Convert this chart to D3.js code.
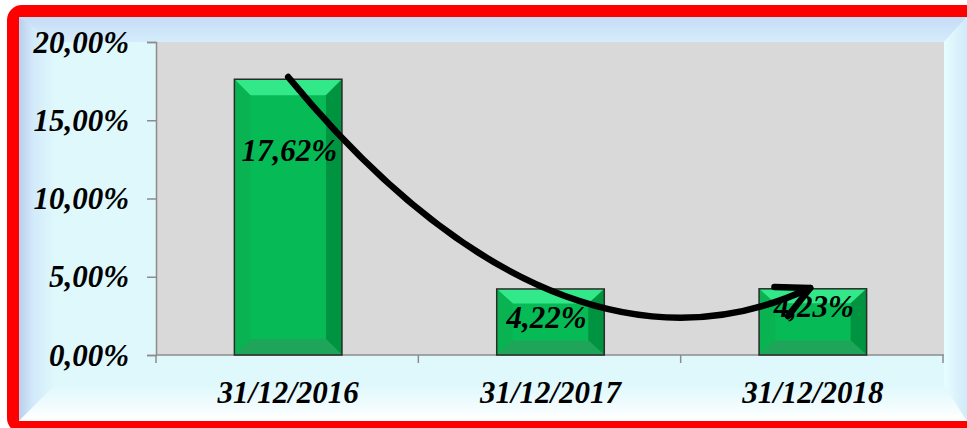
<!DOCTYPE html>
<html>
<head>
<meta charset="utf-8">
<script src="https://cdn.jsdelivr.net/npm/d3@7"></script>
<style>
  html, body { margin: 0; padding: 0; background: #fff; overflow: hidden; }
  text { font-family: "Liberation Serif", "Times New Roman", serif; font-weight: bold; font-style: italic; }
</style>
</head>
<body>
<div id="chart"></div>
<script>
/**
 * DATA
 * */
const categories = ["31/12/2016", "31/12/2017", "31/12/2018"];
const values = [17.62, 4.22, 4.23];
const valueLabels = ["17,62%", "4,22%", "4,23%"];
const yTicks = [0, 5, 10, 15, 20];
const yTickLabels = ["0,00%", "5,00%", "10,00%", "15,00%", "20,00%"];

// arrow annotation: [category position, value]
const arrowPoints = [[0, 17.76], [0.73, 2.9], [1.42, -0.2], [1.99, 4.28]];

/**
 * LAYOUT
 * */
const width = 967, height = 428;
const plot = { left: 157, right: 944, top: 42, bottom: 355 };
const fontSize = "31px";
// label baseline offset below bar top, and x shift
const labelDy = [82, 39, 28];
const labelDx = [1, -4, 1];

const svg = d3.select("#chart").append("svg")
  .attr("width", width)
  .attr("height", height);

const defs = svg.append("defs");

function linGrad(id, x1, y1, x2, y2, stops) {
  const g = defs.append("linearGradient").attr("id", id)
    .attr("x1", x1).attr("y1", y1).attr("x2", x2).attr("y2", y2);
  stops.forEach(s => g.append("stop").attr("offset", s[0]).attr("stop-color", s[1]));
}
linGrad("gTop", 0, 0, 0, 1, [[0, "#c6dcf7"], [1, "#d4ecfb"]]);
linGrad("gLeft", 0, 0, 1, 0, [[0, "#b9cfee"], [0.4, "#d2eafa"], [1, "#dff8fc"]]);
linGrad("gRight", 0, 0, 1, 0, [[0, "#e6feff"], [1, "#d2e9f9"]]);
linGrad("gBottom", 0, 0, 0, 1, [[0, "#dff8fc"], [1, "#ffffff"]]);

// outer red frame
svg.append("rect")
  .attr("x", 13).attr("y", 11)
  .attr("width", 975).attr("height", 416)
  .attr("rx", 9)
  .attr("fill", "none")
  .attr("stroke", "#ff0000")
  .attr("stroke-width", 12);

// chart area with bevelled walls
const fo = { x0: 19, y0: 17, x1: 967, y1: 421 };
const fi = { x0: 55, y0: plot.top, x1: plot.right, y1: 385 };
svg.append("rect")
  .attr("x", fo.x0).attr("y", fo.y0)
  .attr("width", fo.x1 - fo.x0).attr("height", fo.y1 - fo.y0)
  .attr("fill", "#dff8fc");

const walls = [
  { fill: "url(#gTop)", pts: [[fo.x0, fo.y0], [fo.x1, fo.y0], [fi.x1, fi.y0], [fo.x0 + 10, fi.y0]] },
  { fill: "url(#gLeft)", pts: [[fo.x0, fo.y0], [fi.x0, fi.y0], [fi.x0, fi.y1], [fo.x0, fo.y1]] },
  { fill: "url(#gBottom)", pts: [[fo.x0, fo.y1], [fi.x0, fi.y1], [fi.x1, fi.y1], [fo.x1, fo.y1]] },
  { fill: "url(#gRight)", pts: [[fo.x1, fo.y0], [fo.x1, fo.y1], [fi.x1, fi.y1], [fi.x1, fi.y0]] }
];
svg.selectAll(".wall")
  .data(walls)
  .join("polygon")
  .attr("class", "wall")
  .attr("points", d => d.pts.map(p => p.join(",")).join(" "))
  .attr("fill", d => d.fill);

// plot area
svg.append("rect")
  .attr("x", plot.left).attr("y", plot.top)
  .attr("width", plot.right - plot.left).attr("height", plot.bottom - plot.top)
  .attr("fill", "#d9d9d9");

/**
 * SCALES
 * */
const x = d3.scaleBand()
  .domain(categories)
  .range([plot.left, plot.right])
  .paddingInner(0.59)
  .paddingOuter(0.295);

const y = d3.scaleLinear()
  .domain([0, 20])
  .range([plot.bottom, plot.top]);

const step = (plot.right - plot.left) / categories.length;
const catX = i => plot.left + step * (i + 0.5);

/**
 * AXES
 * */
const yAxis = svg.append("g")
  .attr("transform", `translate(${plot.left - 1},0)`)
  .call(d3.axisLeft(y).tickValues(yTicks).tickSize(9).tickFormat((d, i) => yTickLabels[i]));
yAxis.select(".domain").attr("stroke", "#8c8c8c").attr("stroke-width", 1.5);
yAxis.selectAll(".tick line").attr("stroke", "#8c8c8c").attr("stroke-width", 1.5);
yAxis.selectAll(".tick text")
  .attr("x", -27)
  .attr("dy", "0.33em")
  .attr("fill", "#000")
  .style("font-size", fontSize);

const xEdges = d3.range(categories.length + 1).map(i => plot.left - 1 + step * i);
const xAxis = svg.append("g");
xAxis.append("line")
  .attr("x1", plot.left - 1).attr("x2", plot.right)
  .attr("y1", plot.bottom).attr("y2", plot.bottom)
  .attr("stroke", "#8c8c8c").attr("stroke-width", 1.5);
xAxis.selectAll(".xtick")
  .data(xEdges)
  .join("line")
  .attr("class", "xtick")
  .attr("x1", d => d).attr("x2", d => d)
  .attr("y1", plot.bottom).attr("y2", plot.bottom + 8)
  .attr("stroke", "#8c8c8c").attr("stroke-width", 1.5);
xAxis.selectAll(".xlabel")
  .data(categories)
  .join("text")
  .attr("class", "xlabel")
  .attr("x", d => x(d) + x.bandwidth() / 2)
  .attr("y", 403)
  .attr("text-anchor", "middle")
  .style("font-size", fontSize)
  .text(d => d);

/**
 * BARS (bevelled)
 * */
const bars = svg.selectAll(".bar")
  .data(values.map((v, i) => ({ v, cat: categories[i], i })))
  .join("g")
  .attr("class", "bar");

bars.each(function (d) {
  const g = d3.select(this);
  const x0 = x(d.cat), x1 = x0 + x.bandwidth();
  const y0 = y(d.v), y1 = y(0);
  const bx = 16, by = Math.min(16, (y1 - y0) * 0.22);
  const faces = [
    { c: "#06bb55", p: [[x0, y0], [x1, y0], [x1, y1], [x0, y1]] },
    { c: "#33e888", p: [[x0, y0], [x1, y0], [x1 - bx, y0 + by], [x0 + bx, y0 + by]] },
    { c: "#009440", p: [[x1, y0], [x1, y1], [x1 - bx, y1 - by], [x1 - bx, y0 + by]] },
    { c: "#1fa55a", p: [[x0, y1], [x1, y1], [x1 - bx, y1 - by], [x0 + bx, y1 - by]] },
    { c: "#0ab352", p: [[x0, y0], [x0 + bx, y0 + by], [x0 + bx, y1 - by], [x0, y1]] }
  ];
  g.selectAll("polygon")
    .data(faces)
    .join("polygon")
    .attr("points", f => f.p.map(p => p.join(",")).join(" "))
    .attr("fill", f => f.c);
  g.append("rect")
    .attr("x", x0).attr("y", y0)
    .attr("width", x1 - x0).attr("height", y1 - y0)
    .attr("fill", "none")
    .attr("stroke", "#2b2b2b")
    .attr("stroke-width", 1.5);
});

// value labels
svg.selectAll(".vlabel")
  .data(values)
  .join("text")
  .attr("class", "vlabel")
  .attr("x", (d, i) => x(categories[i]) + x.bandwidth() / 2 + labelDx[i])
  .attr("y", (d, i) => y(d) + labelDy[i])
  .attr("text-anchor", "middle")
  .style("font-size", fontSize)
  .text((d, i) => valueLabels[i]);

/**
 * ARROW ANNOTATION
 * */
defs.append("marker")
  .attr("id", "head")
  .attr("markerUnits", "userSpaceOnUse")
  .attr("viewBox", "-40 -25 50 50")
  .attr("refX", 0).attr("refY", 0)
  .attr("markerWidth", 50).attr("markerHeight", 50)
  .attr("orient", "auto")
  .append("path")
  .attr("d", "M-32,-16 L0,0 L-32,16")
  .attr("fill", "none")
  .attr("stroke", "#000")
  .attr("stroke-width", 6.5)
  .attr("stroke-linecap", "round")
  .attr("stroke-linejoin", "round");

const ap = arrowPoints.map(p => [catX(p[0]), y(p[1])]);
svg.append("path")
  .attr("d", `M${ap[0]} C${ap[1]} ${ap[2]} ${ap[3]}`)
  .attr("fill", "none")
  .attr("stroke", "#000")
  .attr("stroke-width", 6.5)
  .attr("stroke-linecap", "round")
  .attr("marker-end", "url(#head)");
</script>
</body>
</html>
